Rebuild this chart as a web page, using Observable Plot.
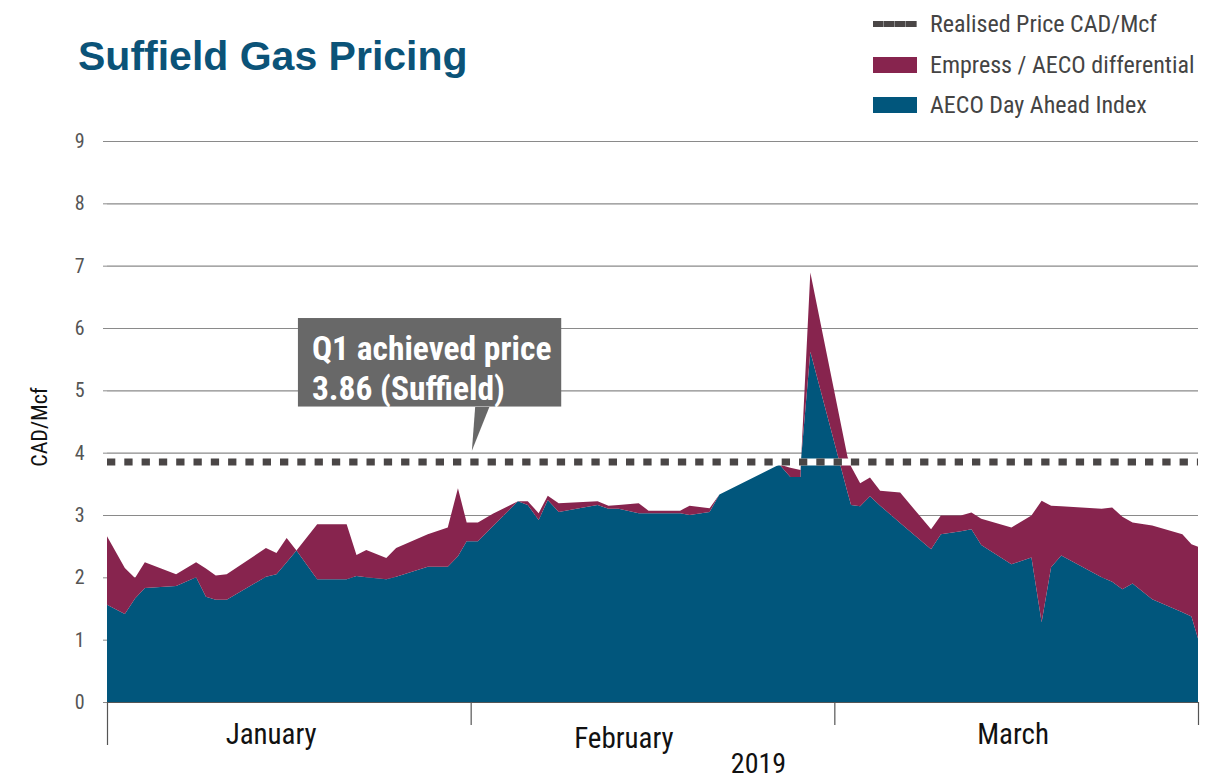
<!DOCTYPE html>
<html>
<head>
<meta charset="utf-8">
<script src="https://cdn.jsdelivr.net/npm/d3@7"></script>
<script src="https://cdn.jsdelivr.net/npm/@observablehq/plot@0.6"></script>
<style>
  html, body { margin: 0; padding: 0; background: #fff; }
  #wrap { position: relative; width: 1210px; height: 782px; overflow: hidden; }
  #title { position: absolute; left: 78px; top: 36px; font-family: "Liberation Sans", Arial, sans-serif; font-weight: bold; font-size: 41px; line-height: 41px; color: #0b5378; white-space: nowrap; }
  .cond { font-family: "Liberation Sans Narrow", "Roboto Condensed", "DejaVu Sans Condensed", "Liberation Sans", sans-serif; }
  .lg { position: absolute; left: 873px; height: 40px; display: flex; align-items: center; white-space: nowrap; }
  .lg .sw { width: 44px; height: 16px; margin-right: 13px; }
  .lg span { font-size: 24px; color: #444; }
  #chart { position: absolute; left: 0; top: 0; }
  #ylabel { position: absolute; left: 40px; top: 427px; transform: translate(-50%, -50%) rotate(-90deg); font-size: 22px; color: #111; white-space: nowrap; line-height: 22px; }
</style>
</head>
<body>
<div id="wrap">
  <div id="chart"></div>
  <div id="title">Suffield Gas Pricing</div>
  <div id="ylabel" class="cond"></div>
  <div id="legend"></div>
</div>
<script>
// ---- data (x = position in months from 1 Jan 2019; 0=Jan start, 1=Feb start, 2=Mar start, 3=Mar end)
const xPos = [0.00,0.049,0.077,0.104,0.190,0.245,0.272,0.299,0.329,0.437,0.466,0.494,0.521,0.578,0.659,0.686,0.713,0.768,0.795,0.882,0.937,0.965,0.989,1.020,1.061,1.130,1.157,1.187,1.212,1.242,1.349,1.379,1.407,1.462,1.489,1.576,1.602,1.657,1.684,1.849,1.879,1.907,1.909,1.934,2.036,2.046,2.071,2.098,2.126,2.181,2.266,2.293,2.348,2.377,2.404,2.487,2.542,2.570,2.596,2.624,2.735,2.764,2.792,2.820,2.874,2.957,2.982,3.00];
const aecoIndex = [1.56,1.41,1.66,1.83,1.86,2.00,1.69,1.64,1.64,2.01,2.05,2.24,2.43,1.97,1.97,2.02,2.00,1.97,2.01,2.17,2.17,2.34,2.58,2.58,2.82,3.22,3.16,2.92,3.24,3.05,3.16,3.10,3.10,3.03,3.03,3.03,3.00,3.05,3.33,3.81,3.61,3.61,3.93,5.62,3.37,3.16,3.14,3.30,3.15,2.87,2.45,2.69,2.74,2.77,2.52,2.21,2.32,1.28,2.16,2.35,2.00,1.93,1.81,1.90,1.65,1.44,1.37,1.02];
const differential = [1.10,0.74,0.33,0.41,0.19,0.24,0.45,0.39,0.41,0.46,0.34,0.39,0.00,0.88,0.88,0.34,0.44,0.34,0.46,0.52,0.63,1.09,0.30,0.30,0.20,0.00,0.06,0.11,0.07,0.14,0.06,0.05,0.06,0.16,0.04,0.04,0.15,0.06,0.00,0.00,0.15,0.11,0.00,1.27,0.57,0.62,0.37,0.30,0.24,0.49,0.32,0.30,0.25,0.27,0.42,0.59,0.67,1.95,0.99,0.79,1.10,1.19,1.16,0.98,1.18,1.25,1.16,1.47];
const realisedPrice = 3.86;
const yTicks = [0,1,2,3,4,5,6,7,8,9];
const monthBounds = [0,1,2,3];
const months = ["January","February","March"];
const monthLabelX = [0.45,1.42,2.49];
const yearLabel = "2019";
const yearLabelX = 1.79;
const yLabel = "CAD/Mcf";
const seriesNames = ["Realised Price CAD/Mcf","Empress / AECO differential","AECO Day Ahead Index"];
const calloutLines = ["Q1 achieved price","3.86 (Suffield)"];

// ---- style
const BLUE = "#01567c", MAROON = "#87244e", DASH = "#4a4646", BOX = "#686868";
const COND = '"Liberation Sans Narrow", "Roboto Condensed", "DejaVu Sans Condensed", "Liberation Sans", sans-serif';

const data = xPos.map((x, i) => ({x, aeco: aecoIndex[i], diff: differential[i]}));
const monthData = months.map((m, i) => ({m, x: monthLabelX[i]}));

// callout geometry in data space
const box = {x1: 0.525, x2: 1.249, y1: 4.74, y2: 6.16};
const pointer = [[1.011, 4.74], [1.050, 4.74], [1.002, 4.04]];

const chart = Plot.plot({
  width: 1210,
  height: 782,
  marginLeft: 107,
  marginRight: 12,
  marginTop: 141,
  marginBottom: 80,
  x: {domain: [0, 3], axis: null},
  y: {domain: [0, 9], axis: null},
  style: {fontFamily: COND, background: "transparent"},
  marks: [
    Plot.gridY(yTicks.filter(d => d > 0), {stroke: "#8a8a8a", strokeOpacity: 1, strokeWidth: 1.2}),
    Plot.axisY(yTicks, {tickSize: 4, tickPadding: 19, fontSize: 20, stroke: "#8a8a8a", color: "#555", label: null, tickFormat: d => d}),
    Plot.areaY(data, {x: "x", y1: 0, y2: "aeco", fill: BLUE, curve: "linear"}),
    Plot.areaY(data, {x: "x", y1: "aeco", y2: d => d.aeco + d.diff, fill: MAROON, curve: "linear"}),
    Plot.ruleY([realisedPrice], {stroke: "#fff", strokeWidth: 7}),
    Plot.ruleY([realisedPrice], {stroke: DASH, strokeWidth: 7, strokeDasharray: "8.3,9"}),
    Plot.rect([box], {x1: "x1", x2: "x2", y1: "y1", y2: "y2", fill: BOX}),
    Plot.line(pointer, {x: d => d[0], y: d => d[1], fill: BOX, stroke: "none"}),
    Plot.text([calloutLines.join("\n")], {x: 0.562, y: 6.16, textAnchor: "start", lineAnchor: "top", dy: 13, fill: "#fff", fontSize: 33.5, fontWeight: "bold", lineHeight: 1.2}),
    Plot.ruleY([0], {stroke: "#555", strokeWidth: 1.2}),
    Plot.axisX(monthBounds.slice(1), {tickSize: 23, tickFormat: () => "", stroke: "#555", strokeWidth: 1.2}),
    Plot.axisX(monthBounds.slice(0, 1), {tickSize: 43, tickFormat: () => "", stroke: "#555", strokeWidth: 1.2}),
    Plot.text(monthData.filter(d => d.m !== "February"), {x: "x", text: "m", frameAnchor: "bottom", dy: 41, fontSize: 29, fill: "#111"}),
    Plot.text(monthData.filter(d => d.m === "February"), {x: "x", text: "m", frameAnchor: "bottom", dy: 45, fontSize: 29, fill: "#111"}),
    Plot.text([yearLabel], {x: yearLabelX, frameAnchor: "bottom", dy: 70, fontSize: 28, fill: "#111"})
  ]
});
document.getElementById("chart").appendChild(chart);
document.getElementById("ylabel").textContent = yLabel;

// legend
const legend = document.getElementById("legend");
const tops = [4, 45, 85];
seriesNames.forEach((name, i) => {
  const row = document.createElement("div");
  row.className = "lg cond";
  row.style.top = tops[i] + "px";
  const sw = document.createElement("div");
  sw.className = "sw";
  if (i === 0) {
    sw.style.height = "6px";
    sw.style.background = `repeating-linear-gradient(90deg, ${DASH} 0 10px, #8a8a8a 10px 11px)`;
  } else {
    sw.style.background = i === 1 ? MAROON : BLUE;
  }
  const t = document.createElement("span");
  t.textContent = name;
  row.appendChild(sw);
  row.appendChild(t);
  legend.appendChild(row);
});
</script>
</body>
</html>
